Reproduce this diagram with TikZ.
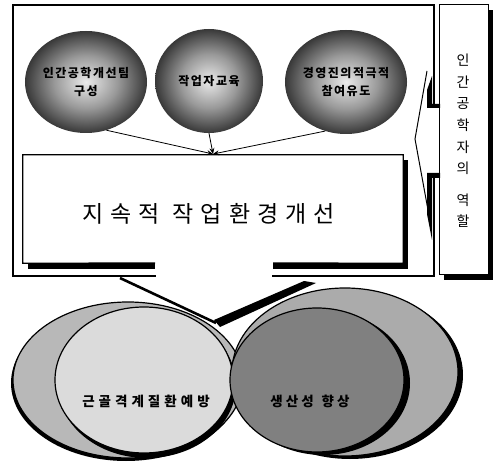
\documentclass[tikz,border=0pt]{standalone}
\usepackage{fontspec}
\newfontfamily\kr{Noto Sans CJK KR}
\newcommand\krb{\kr\bfseries}
\usetikzlibrary{shapes.geometric,arrows.meta,shadows}
\colorlet{sphA}{black!8}
\colorlet{sphB}{black!40}
\colorlet{sphC}{black!78}
\colorlet{sphD}{black!95}
\pgfdeclareradialshading{sph}{\pgfpoint{0bp}{0bp}}{color(0bp)=(sphA); color(13bp)=(sphB); color(25bp)=(sphC); color(35bp)=(sphD); color(50bp)=(black)}
\newcommand\gs{\hspace{1.5pt}}
\newcommand\gm{\hspace{4pt}}
\newcommand\gl{\hspace{7pt}}
\begin{document}
\begin{tikzpicture}[x=1pt,y=-1pt,
  sphere/.style={ellipse, shading=sph, inner sep=0pt, align=center,
    font=\fontsize{12}{18}\selectfont\krb},
  disc/.style={ellipse, draw=black, line width=1.2pt, inner sep=0pt},
  dshadow/.style={drop shadow={shadow xshift=#1, shadow yshift=-3pt, fill=black, opacity=1}},
  frameline/.style={line width=1.6pt, line cap=rect},
  conn/.style={line width=0.8pt, -{Stealth[length=6pt,width=5pt]}}]
\useasboundingbox (0,0) rectangle (495,462);
\fill[white] (0,0) rectangle (495,462);

% ---- bottom discs ----
\node[disc, fill=black!28, minimum width=230pt, minimum height=156pt,
      drop shadow={shadow xshift=-2pt, shadow yshift=-3pt, fill=black, opacity=1}] (bl) at (128,380) {};
\node[disc, fill=black!33, minimum width=226pt, minimum height=168pt, dshadow=5pt] (br) at (345,372) {};
\node[disc, fill=black!14, minimum width=178pt, minimum height=146pt,
      drop shadow={shadow xshift=3pt, shadow yshift=-5pt, fill=black, opacity=1}] (fl) at (144,380) {};
\node[disc, fill=black!50, minimum width=174pt, minimum height=144pt, dshadow=6pt] (fr) at (317,380) {};
\node[font=\fontsize{13.5}{16}\selectfont\krb] (t1) at (146,401) {근\gm 골\gm 격\gm 계\gm 질\gm 환\gm 예\gm 방};
\node[font=\fontsize{13.5}{16}\selectfont\krb] (t2) at (310,401) {생\hspace{3pt}산\hspace{3pt}성\hspace{8pt}향\hspace{3pt}상};

% ---- outer frame ----
\coordinate (ftl) at (13,5);
\coordinate (ftr) at (434,5);
\coordinate (fbl) at (13,276);
\coordinate (fbr) at (434,276);
\draw[frameline] (434,107) -- (ftr) -- (ftl) -- (fbl) -- (155,276);
\draw[frameline] (273,276) -- (fbr) -- (434,178);

% ---- callout pointer of the central box ----
\coordinate (ptip) at (216,323);
\draw[line width=2.6pt] (120,278) -- (ptip);
\fill[black] (214,320) -- (304,281) -- (316,283) -- (220,327) -- cycle;

% ---- right box ----
\fill[black] (444,10) rectangle (493,280);
\node[draw, fill=white, line width=1pt, minimum width=49pt, minimum height=270pt, inner sep=0pt] (role) at (463.5,140) {};
\node[align=center, font=\fontsize{14}{21.6}\selectfont\kr] (roletext) at (463,141)
  {인\\간\\공\\학\\자\\의\\[10pt]역\\할};
\coordinate (rp1) at (427,71);
\coordinate (rtip) at (415,139);
\coordinate (rp2) at (428,210);
\draw[line width=1pt] (rp1) -- (rtip) -- (rp2);
\fill[black] (427,90) -- (432,76) -- (432,104) -- (440,104) -- (440,108) -- (427,108) -- cycle;
\fill[black] (427,173) -- (440,173) -- (440,178) -- (432,178) -- (432,240) -- (427,214) -- cycle;

% ---- central box ----
\fill[black] (403,160) rectangle (408,268);
\fill[black] (28,263) rectangle (155,269);
\fill[black] (273,263) rectangle (408,269);
\node[fill=white, minimum width=380pt, minimum height=108pt, inner sep=0pt] (cbox) at (213,209) {};
\draw[line width=1.2pt] (155,263) -- (cbox.south west) -- (cbox.north west) -- (cbox.north east) -- (cbox.south east) -- (273,263);
\node[font=\fontsize{23}{28}\selectfont\kr] (ctext) at (208.5,214)
  {지\gl 속\gl 적\hspace{13pt}작\gl 업\gl 환\gl 경\gl 개\gl 선};

% ---- spheres ----
\node[sphere, minimum width=122pt, minimum height=102pt] (c1) at (86,82)
  {인\gs 간\gs 공\gs 학\gs 개\gs 선\gs 팀\\구\gs 성};
\node[sphere, minimum width=108pt, minimum height=104pt] (c2) at (209,81)
  {작\gs 업\gs 자\gs 교\gs 육};
\node[sphere, minimum width=122pt, minimum height=104pt] (c3) at (346,82)
  {경\gs 영\gs 진\gs 의\gs 적\gs 극\gs 적\\참\gs 여\gs 유\gs 도};

\coordinate (tgt) at (213,154);
\draw[conn] (c1.-67) -- (tgt);
\draw[conn] (c2.south) -- (tgt);
\draw[conn] (c3.-113) -- (tgt);
\end{tikzpicture}
\end{document}
